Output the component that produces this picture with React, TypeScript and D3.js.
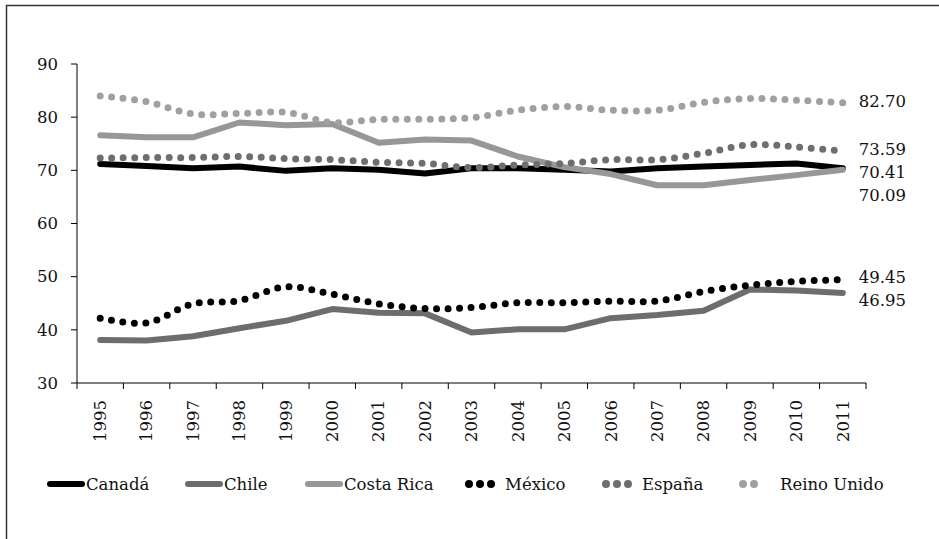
import React from "react";
import * as d3 from "d3";

const years = ["1995","1996","1997","1998","1999","2000","2001","2002","2003","2004","2005","2006","2007","2008","2009","2010","2011"];
const canada = [71.2,70.8,70.4,70.7,69.9,70.4,70.1,69.4,70.4,70.4,70.1,69.8,70.4,70.7,71.0,71.3,70.41];
const chile = [38.1,38.0,38.8,40.3,41.7,43.9,43.2,43.1,39.5,40.1,40.1,42.2,42.8,43.6,47.6,47.4,46.95];
const costaRica = [76.6,76.2,76.2,79.0,78.5,78.7,75.2,75.8,75.6,72.6,70.6,69.3,67.2,67.2,68.2,69.1,70.09];
const mexico = [42.2,41.3,44.9,45.5,48.1,46.7,44.9,44.0,44.2,45.1,45.1,45.4,45.4,47.2,48.4,49.1,49.45];
const espana = [72.3,72.4,72.4,72.6,72.2,72.0,71.5,71.3,70.5,71.0,71.3,72.0,72.0,73.2,74.8,74.4,73.59];
const reinoUnido = [84.0,82.9,80.6,80.7,80.9,79.0,79.6,79.6,79.9,81.3,82.0,81.3,81.3,82.8,83.5,83.2,82.7];
const yTicks = [30,40,50,60,70,80,90];
const seriesNames = ["Canadá","Chile","Costa Rica","México","España","Reino Unido"];
const seriesColors = ["#000000","#6d6d70","#979799","#000000","#6e6e70","#a0a0a2"];
const seriesDotted = [false,false,false,true,true,true];
const seriesValues = [canada, chile, costaRica, mexico, espana, reinoUnido];

const W = 939, H = 539;
const X0 = 77, X1 = 866, Y0 = 383, Y1 = 64;
const FONT = "'DejaVu Serif', serif";
const legendX = [47,185,305,466,603,740];
const legendY = 484;

export default function App() {
  const x = d3.scaleBand<string>().domain(years).range([X0, X1]);
  const y = d3.scaleLinear().domain([30, 90]).range([Y0, Y1]);
  const cx = (yr: string) => (x(yr) as number) + x.bandwidth() / 2;

  const series = seriesNames.map((name, i) => ({
    name,
    color: seriesColors[i],
    dotted: seriesDotted[i],
    values: seriesValues[i],
  }));

  const lineLinear = d3.line<number>().x((_, i) => cx(years[i])).y((v) => y(v));
  const lineSmooth = d3.line<number>().x((_, i) => cx(years[i])).y((v) => y(v)).curve(d3.curveCatmullRom.alpha(0.5));

  const lastX = cx(years[years.length - 1]);
  const labels = series
    .map((s) => ({ v: s.values[s.values.length - 1], y0: y(s.values[s.values.length - 1]) }))
    .sort((a, b) => a.y0 - b.y0);
  let prev = -Infinity;
  const placed = labels.map((l) => {
    const yy = Math.max(l.y0, prev + 23);
    prev = yy;
    return { ...l, yy };
  });

  const bandEdges = years.map((yr) => x(yr) as number).concat([X1]);

  return (
    <svg width={W} height={H} style={{ position: "absolute", left: 0, top: 0, background: "#fff" }} fontFamily={FONT}>
      <rect x={0} y={0} width={W} height={H} fill="#fff" />
      <line x1={6} y1={5.5} x2={W} y2={5.5} stroke="#333" strokeWidth={1.5} />
      <line x1={6.5} y1={5} x2={6.5} y2={H} stroke="#333" strokeWidth={1.5} />

      <line x1={X0} y1={Y1} x2={X0} y2={Y0} stroke="#000" strokeWidth={1} />
      {yTicks.map((t) => (
        <g key={t}>
          <line x1={X0 - 6} x2={X0} y1={y(t)} y2={y(t)} stroke="#000" />
          <text x={X0 - 19} y={y(t)} dy="0.35em" textAnchor="end" fontSize={16.5} fill="#111">{t}</text>
        </g>
      ))}

      <line x1={X0} y1={Y0} x2={X1} y2={Y0} stroke="#000" strokeWidth={1} />
      {bandEdges.map((bx, i) => (
        <line key={i} x1={bx} x2={bx} y1={Y0} y2={Y0 + 6} stroke="#000" />
      ))}
      {years.map((yr) => (
        <text key={yr} transform={`translate(${cx(yr)},${Y0 + 17}) rotate(-90)`} dy="0.35em" textAnchor="end" fontSize={16.5} fill="#111">{yr}</text>
      ))}

      {series.map((s) => (
        <path
          key={s.name}
          d={(s.dotted ? lineSmooth : lineLinear)(s.values) as string}
          fill="none"
          stroke={s.color}
          strokeWidth={s.dotted ? 7 : 6}
          strokeLinecap="round"
          strokeLinejoin="round"
          strokeDasharray={s.dotted ? "0 11.5" : undefined}
        />
      ))}

      {placed.map((l, i) => (
        <text key={i} x={lastX + 16} y={l.yy - 2} dy="0.35em" fontSize={16.5} fill="#111">{l.v.toFixed(2)}</text>
      ))}

      {series.map((s, i) => {
        const lx = legendX[i];
        const nDots = i === 5 ? 3 : 4;
        return (
          <g key={s.name}>
            {s.dotted ? (
              <line x1={lx + 3} x2={lx + 3 + (nDots - 1) * 11} y1={legendY} y2={legendY} stroke={s.color} strokeWidth={8} strokeLinecap="round" strokeDasharray="0 11" />
            ) : (
              <line x1={lx + 3} x2={lx + 35} y1={legendY} y2={legendY} stroke={s.color} strokeWidth={6} strokeLinecap="round" />
            )}
            <text x={i === 5 ? lx + 40 : lx + 39} y={legendY} dy="0.35em" fontSize={16.5} fill="#111">{s.name}</text>
          </g>
        );
      })}
    </svg>
  );
}
